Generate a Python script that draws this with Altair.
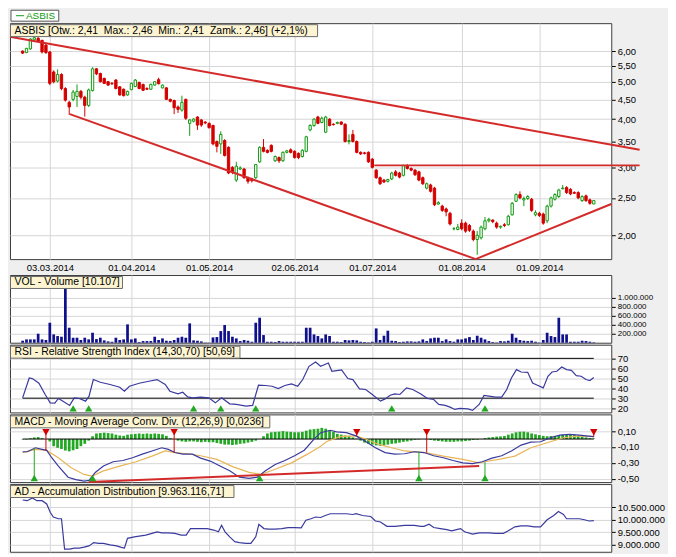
import altair as alt
import pandas as pd

FONT = "Liberation Sans"
BG = "#efefef"
GRID = "#d6d6d6"
RED = "#d40000"
GREEN = "#129a12"
LGREEN = "#22a822"
BLUE = "#3a3a9e"
NAVY = "#10108c"
SIGNAL = "#e8b558"
TREND = "#d42a2a"

W = 604
H_PRICE = 237
H_IND = 68
XDOM = [-3.25, 151.5]

# ---------------- data ----------------
opens = [
    6.00, 5.95, 6.08, 6.42, 6.48, 6.40, 6.22, 5.97, 5.30, 5.02,
    5.22, 4.80, 4.42, 4.50, 4.58, 4.72, 4.56, 4.34, 4.74, 5.40,
    5.25, 5.10, 5.00, 4.95, 5.05, 4.85, 4.78, 4.62, 4.77, 4.86,
    4.98, 4.92, 4.80, 4.78, 4.90, 5.06, 4.82, 4.82, 4.50, 4.47,
    4.30, 4.22, 4.50, 3.90, 3.95, 4.05, 3.98, 3.93, 3.90, 3.85,
    3.50, 3.45, 3.52, 3.38, 3.00, 2.78, 2.97, 2.97, 2.82, 2.80,
    2.82, 3.10, 3.38, 3.32, 3.42, 3.12, 3.18, 3.12, 3.28, 3.33,
    3.30, 3.26, 3.20, 3.30, 3.75, 3.85, 4.05, 3.92, 3.70, 4.00,
    3.88, 3.90, 3.93, 3.88, 3.50, 3.65, 3.50, 3.28, 3.27, 3.28,
    3.15, 2.95, 2.82, 2.78, 2.76, 2.80, 2.92, 2.90, 2.86, 3.03,
    2.98, 2.95, 2.92, 2.82, 2.65, 2.70, 2.65, 2.41, 2.38, 2.34,
    2.28, 2.08, 2.07, 2.15, 2.15, 2.12, 2.05, 1.95, 1.97, 2.08,
    2.18, 2.19, 2.15, 2.10, 2.13, 2.13, 2.26, 2.45, 2.55, 2.47,
    2.49, 2.48, 2.26, 2.28, 2.27, 2.18, 2.38, 2.48, 2.52, 2.64,
    2.66, 2.63, 2.58, 2.58, 2.46, 2.53, 2.47, 2.41,
]
highs = [
    6.03, 6.12, 6.48, 6.55, 6.52, 6.42, 6.26, 6.00, 5.35, 5.38,
    5.26, 4.84, 4.46, 4.76, 4.92, 4.76, 4.60, 4.80, 5.45, 5.42,
    5.28, 5.12, 5.02, 4.99, 5.08, 4.87, 4.80, 4.74, 4.97, 5.08,
    5.00, 4.94, 4.84, 4.94, 5.02, 5.12, 4.92, 4.84, 4.52, 4.49,
    4.34, 4.60, 4.52, 4.00, 4.02, 4.07, 4.00, 3.95, 3.92, 3.87,
    3.52, 3.72, 3.55, 3.40, 3.02, 3.10, 3.02, 2.99, 2.84, 2.82,
    3.06, 3.40, 3.55, 3.34, 3.44, 3.22, 3.20, 3.30, 3.33, 3.36,
    3.32, 3.28, 3.34, 3.62, 3.88, 4.02, 4.08, 4.06, 4.08, 4.02,
    3.90, 3.94, 3.95, 3.90, 3.65, 3.75, 3.52, 3.30, 3.29, 3.30,
    3.17, 2.97, 2.84, 2.80, 2.80, 2.92, 2.95, 2.92, 3.05, 3.06,
    3.00, 2.97, 2.94, 2.84, 2.74, 2.72, 2.67, 2.45, 2.40, 2.36,
    2.30, 2.10, 2.14, 2.20, 2.17, 2.14, 2.07, 2.05, 2.12, 2.23,
    2.22, 2.20, 2.17, 2.12, 2.15, 2.26, 2.44, 2.57, 2.60, 2.52,
    2.54, 2.50, 2.32, 2.30, 2.29, 2.40, 2.52, 2.57, 2.64, 2.70,
    2.68, 2.65, 2.60, 2.60, 2.54, 2.55, 2.49, 2.46,
]
lows = [
    5.90, 5.93, 6.05, 6.38, 6.33, 5.92, 5.90, 4.90, 4.95, 4.98,
    4.75, 4.44, 4.10, 4.45, 4.30, 4.50, 4.06, 4.30, 4.72, 5.20,
    4.98, 4.93, 4.88, 4.90, 4.78, 4.60, 4.58, 4.60, 4.75, 4.84,
    4.78, 4.73, 4.76, 4.76, 4.88, 4.92, 4.80, 4.48, 4.42, 4.12,
    4.15, 4.18, 3.98, 3.62, 3.92, 3.75, 3.82, 3.88, 3.78, 3.42,
    3.28, 3.25, 3.20, 2.88, 2.88, 2.75, 2.95, 2.80, 2.72, 2.74,
    2.80, 3.08, 3.28, 3.26, 3.28, 3.10, 3.08, 3.10, 3.26, 3.26,
    3.16, 3.15, 3.18, 3.28, 3.72, 3.82, 3.88, 3.90, 3.68, 3.83,
    3.85, 3.88, 3.86, 3.48, 3.44, 3.48, 3.26, 3.23, 3.24, 3.08,
    2.98, 2.80, 2.70, 2.73, 2.74, 2.78, 2.84, 2.81, 2.84, 2.96,
    2.93, 2.85, 2.76, 2.70, 2.63, 2.58, 2.38, 2.40, 2.30, 2.24,
    2.12, 2.06, 2.06, 2.06, 2.03, 2.04, 1.93, 1.78, 1.95, 2.06,
    2.16, 2.15, 2.08, 2.08, 2.10, 2.12, 2.25, 2.44, 2.48, 2.38,
    2.47, 2.30, 2.24, 2.23, 2.13, 2.15, 2.36, 2.46, 2.50, 2.63,
    2.56, 2.54, 2.56, 2.48, 2.44, 2.44, 2.40, 2.41,
]
closes = [
    5.93, 6.10, 6.45, 6.50, 6.36, 5.97, 5.95, 4.95, 5.00, 5.22,
    4.80, 4.48, 4.30, 4.70, 4.72, 4.56, 4.34, 4.76, 5.40, 5.24,
    5.00, 4.95, 4.90, 4.94, 4.80, 4.62, 4.60, 4.72, 4.95, 5.05,
    4.80, 4.75, 4.78, 4.92, 5.00, 4.94, 4.90, 4.50, 4.45, 4.28,
    4.24, 4.42, 4.02, 3.98, 4.00, 3.86, 3.86, 3.91, 3.80, 3.45,
    3.40, 3.65, 3.22, 2.90, 2.92, 3.02, 2.99, 2.82, 2.76, 2.77,
    3.05, 3.38, 3.30, 3.28, 3.30, 3.20, 3.12, 3.28, 3.31, 3.28,
    3.18, 3.18, 3.32, 3.60, 3.85, 4.00, 3.90, 4.02, 4.05, 3.85,
    3.87, 3.92, 3.88, 3.50, 3.52, 3.50, 3.28, 3.25, 3.26, 3.10,
    3.00, 2.82, 2.72, 2.75, 2.79, 2.90, 2.86, 2.83, 3.03, 2.98,
    2.95, 2.87, 2.78, 2.72, 2.72, 2.60, 2.40, 2.43, 2.32, 2.30,
    2.14, 2.08, 2.10, 2.08, 2.05, 2.06, 1.95, 2.00, 2.10, 2.18,
    2.20, 2.17, 2.10, 2.11, 2.12, 2.24, 2.42, 2.55, 2.50, 2.49,
    2.52, 2.32, 2.29, 2.25, 2.15, 2.38, 2.50, 2.55, 2.62, 2.65,
    2.58, 2.56, 2.57, 2.50, 2.52, 2.46, 2.42, 2.46,
]
volumes = [
    44000, 74000, 74000, 74000, 200000, 74000, 60000, 444000, 185000, 148000,
    133000, 1207000, 333000, 111000, 111000, 60000, 111000, 74000, 222000, 81000,
    111000, 52000, 30000, 22000, 111000, 60000, 74000, 407000, 74000, 96000,
    15000, 37000, 37000, 37000, 133000, 60000, 96000, 44000, 37000, 60000,
    111000, 133000, 111000, 430000, 52000, 44000, 30000, 5000, 5000, 118000,
    126000, 259000, 393000, 259000, 133000, 96000, 37000, 60000, 44000, 22000,
    444000, 555000, 170000, 22000, 22000, 15000, 37000, 22000, 22000, 22000,
    22000, 22000, 22000, 333000, 333000, 185000, 148000, 96000, 185000, 150000,
    22000, 22000, 15000, 60000, 52000, 60000, 52000, 22000, 15000, 8000,
    22000, 318000, 60000, 155000, 267000, 44000, 37000, 15000, 22000, 30000,
    30000, 22000, 30000, 74000, 37000, 96000, 111000, 111000, 37000, 74000,
    37000, 22000, 74000, 74000, 96000, 126000, 60000, 155000, 111000, 74000,
    37000, 15000, 7000, 37000, 30000, 44000, 200000, 111000, 60000, 44000,
    37000, 44000, 22000, 7000, 60000, 222000, 148000, 126000, 555000, 185000,
    185000, 22000, 22000, 22000, 44000, 37000, 22000, 10107,
]
macd_hist = [
    -0.005, -0.005, 0.01, 0.02, 0.025, 0.01, 0.0, -0.03, -0.09, -0.11,
    -0.125, -0.145, -0.155, -0.14, -0.125, -0.09, -0.06, -0.02, 0.035, 0.07,
    0.075, 0.08, 0.075, 0.07, 0.055, 0.045, 0.04, 0.055, 0.06, 0.065,
    0.07, 0.065, 0.07, 0.065, 0.07, 0.065, 0.06, 0.04, 0.01, 0.0,
    -0.02, -0.03, -0.035, -0.03, -0.03, -0.035, -0.04, -0.035, -0.04, -0.04,
    -0.05, -0.06, -0.07, -0.07, -0.075, -0.07, -0.06, -0.055, -0.045, -0.035,
    -0.02, 0.0, 0.035, 0.07, 0.085, 0.09, 0.093, 0.1, 0.093, 0.09,
    0.085, 0.085, 0.09, 0.105, 0.12, 0.125, 0.13, 0.14, 0.13, 0.11,
    0.09, 0.065, 0.055, 0.045, 0.04, 0.02, 0.005, -0.02, -0.045, -0.06,
    -0.07, -0.08, -0.085, -0.08, -0.07, -0.06, -0.055, -0.045, -0.035, -0.03,
    -0.02, -0.01, -0.005, 0.0, -0.005, -0.01, -0.02, -0.025, -0.03, -0.035,
    -0.035, -0.035, -0.03, -0.03, -0.025, -0.02, -0.012, -0.008, 0.0, 0.012,
    0.02, 0.025, 0.03, 0.033, 0.038, 0.055, 0.07, 0.085, 0.093, 0.093,
    0.085, 0.07, 0.06, 0.05, 0.04, 0.035, 0.038, 0.04, 0.05, 0.055,
    0.055, 0.055, 0.05, 0.04, 0.033, 0.02, 0.012, 0.008,
]

rsi_k = [0, 1.7, 2.5, 4.2, 5.8, 7.1, 8.3, 9.2, 10.4, 12.1, 13.3, 14.6, 16.2, 17.1, 18.2,
         20, 22.5, 25, 26.2, 27.5, 30, 32.5, 34.6, 36.7, 37.9, 40, 41.2, 42.5, 43.7,
         45.8, 47.9, 49.6, 51.2, 53.3, 55, 57.5, 59.2, 60.7, 62.5, 64.2, 65.8, 67.5,
         69.2, 70.8, 72.1, 73.7, 75.4, 76.7, 78.7, 79.6, 80.8, 82.1, 83.7, 85, 86.7,
         88.3, 90, 92.1, 93.3, 94.6, 95.8, 97.1, 98.8, 100.4, 102.5, 104.2, 105.8,
         107.1, 108.75, 110, 111.25, 112.5, 114.6, 115.8, 117.5, 118.75, 120, 121.7,
         123.3, 124.6, 125.8, 127.1, 128.3, 130, 131.25, 132.5, 134, 135.2, 136.25,
         137.5, 138.75, 140, 141.25, 142.5, 143.75, 145, 146, 147]
rsi_v = [30.3, 50.3, 49.7, 45, 33.7, 25.3, 25, 29.7, 27, 22.7, 30.3, 29.7, 27, 32, 48.7,
         46, 43.7, 41, 37, 42, 45, 47, 48.7, 43.7, 37, 34.3, 36, 31.3, 30.3,
         31, 30.3, 25.3, 30.3, 24.3, 23.7, 22, 22.7, 43, 42.7, 42, 39.7, 42.7,
         44.3, 42, 48.7, 62, 66.3, 62, 65.3, 57, 57.7, 58.3, 49.7, 48.7, 39.3,
         38.7, 33.7, 27, 29.3, 33, 34.3, 33.7, 40.3, 38.7, 34.3, 29.7, 28.7,
         23.7, 22.7, 21, 18.7, 19.7, 19.3, 17.7, 23.7, 32.7, 32, 31,
         31, 38.7, 50.3, 58.7, 56.3, 56, 45.3, 43, 40.3, 52, 56.3,
         57, 61.3, 58.7, 58, 52.7, 52, 48.7, 47.7, 50.7]

macd_k = [0, 1.2, 3.3, 5, 6.2, 7.5, 9.2, 11.7, 13.7, 15.8, 17.1, 18.7, 20.8, 23.3, 25.8,
          28.3, 30.8, 33.3, 35.8, 37.5, 39.2, 41.2, 43.7, 45.8, 48.3, 50.8, 53.3, 55.8,
          58.3, 60.4, 62.5, 65, 67.5, 70, 72.5, 75, 76.7, 79.2, 80.8, 83.3, 85.8, 88.3,
          90.8, 93.3, 95.8, 98.3, 100.8, 103.3, 105.8, 108.3, 110.8, 113.3, 115.8,
          118.3, 120.8, 123.3, 125.8, 128.3, 130.8, 133.3, 135.8, 138.3, 140.8, 143.3,
          145, 147]
macd_v = [-0.16, -0.16, -0.11, -0.13, -0.143, -0.235, -0.34, -0.48, -0.51, -0.53, -0.52,
          -0.42, -0.34, -0.286, -0.27, -0.235, -0.19, -0.15, -0.11, -0.13, -0.17, -0.19,
          -0.19, -0.24, -0.277, -0.34, -0.40, -0.48, -0.495, -0.48, -0.40, -0.32, -0.27,
          -0.21, -0.14, 0.0, 0.08, 0.11, 0.09, 0.08, 0.04, -0.03, -0.11, -0.17, -0.19,
          -0.185, -0.16, -0.17, -0.21, -0.235, -0.27, -0.30, -0.31, -0.286, -0.24,
          -0.21, -0.15, -0.076, -0.038, -0.034, 0.016, 0.05, 0.058, 0.05, 0.04, 0.03]

sig_k = [0, 3.3, 6.2, 9.2, 12.5, 15.8, 17.9, 20.8, 25, 29.2, 33.3, 36.7, 39.2, 42.5, 45.8,
         50, 54.2, 58.3, 61.4, 65, 69.2, 73.3, 76.7, 78.3, 81.7, 85.7, 88.3, 91.7, 95,
         98.3, 103.6, 108.3, 113.3, 117.5, 118.9, 122.5, 126.7, 130.8, 135, 139.2,
         143.3, 147]
sig_v = [-0.17, -0.13, -0.143, -0.235, -0.36, -0.445, -0.466, -0.40, -0.34, -0.286,
         -0.215, -0.15, -0.17, -0.185, -0.21, -0.256, -0.35, -0.42, -0.445, -0.38,
         -0.30, -0.19, -0.09, -0.03, 0.03, 0.04, 0.0, -0.068, -0.11, -0.15, -0.17,
         -0.215, -0.256, -0.30, -0.286, -0.256, -0.215, -0.11, -0.047, 0.016, 0.04,
         0.03]

ad_k = [0, 1.2, 2.5, 3.7, 5, 6.2, 7.1, 7.9, 9.2, 10, 10.8, 12.1, 13.3, 14.6, 15.8, 17.1,
        18.3, 19.6, 20.8, 22.5, 24.2, 25.4, 26.2, 27, 28.75, 30, 31.7, 33.3, 34.6, 35.8,
        37.5, 39.2, 40.8, 42.1, 43.2, 44.2, 45.8, 47.5, 49.2, 50.4, 51.2, 52.1, 53.3,
        54.6, 55.8, 57.5, 58.75, 60, 60.8, 62.1, 63.3, 65, 66.7, 68.3, 70, 71.7, 72.9,
        74.2, 75.4, 76.7, 77.9, 79.2, 80.8, 83.3, 85, 85.8, 87.5, 89.6, 90.8, 92.1,
        93.75, 95.8, 98.3, 100.8, 102.5, 103.3, 104.6, 105.8, 107.5, 109.2, 110.4,
        111.7, 112.7, 113.75, 115.8, 117.5, 120, 121.7, 123.75, 125, 126.7, 128.3, 130,
        131.7, 133.3, 135, 136.7, 137.9, 139.2, 140, 141.7, 143.3, 144.6, 145.8, 147]
ad_v = [10.787, 10.76, 10.87, 10.76, 10.76, 10.63, 10.30, 10.11, 10.04, 10.04, 8.83,
        8.83, 8.87, 8.87, 8.91, 8.96, 9.09, 9.06, 9.06, 9.0, 8.96, 8.90, 8.87, 9.26,
        9.32, 9.35, 9.39, 9.46, 9.52, 9.48, 9.48, 9.46, 9.39, 9.39, 9.65, 9.65, 9.65,
        9.65, 9.59, 9.52, 9.78, 9.52, 9.32, 9.13, 9.09, 9.06, 9.06, 9.32, 9.82, 9.65,
        9.63, 9.63, 9.65, 9.69, 9.69, 9.68, 9.98, 10.04, 10.11, 10.09, 10.17, 10.24,
        10.24, 10.24, 10.21, 10.24, 10.17, 10.13, 9.95, 9.91, 9.74, 9.74, 9.78, 9.78,
        9.74, 9.74, 9.82, 9.69, 9.65, 9.61, 9.56, 9.61, 9.65, 9.52, 9.43, 9.48, 9.48,
        9.46, 9.46, 9.56, 9.72, 9.76, 9.76, 9.72, 9.72, 10.0, 10.17, 10.33, 10.21,
        10.04, 10.04, 10.04, 10.0, 9.95, 9.963]  # millions

rsi_buy_k = [13, 17, 44, 51, 60, 95, 119]
macd_sell_k = [6, 39, 86, 104, 147]
macd_sell_end = [-0.145, -0.17, 0.04, -0.17, 0.03]
macd_buy_k = [3, 18, 61, 102, 119]
macd_buy_end = [-0.11, -0.52, -0.47, -0.16, -0.29]

# trend lines on price: start k, start price, end k, end price
tl_k1 = [-3.25, 12.15, 116.6, 90.5]
tl_p1 = [6.535, 4.12, 1.735, 3.035]
tl_k2 = [158.8, 116.6, 151.5, 158.8]
tl_p2 = [3.33, 1.735, 2.41, 3.035]
macd_tl = {"k1": [17], "v1": [-0.54], "k2": [117.5], "v2": [-0.34]}

date_tick_k = [7, 28, 48, 70, 90, 113, 133]
date_tick_labels = ["03.03.2014", "01.04.2014", "01.05.2014", "02.06.2014",
                    "01.07.2014", "01.08.2014", "01.09.2014"]
price_ticks = [2.0, 2.5, 3.0, 3.5, 4.0, 4.5, 5.0, 5.5, 6.0]
price_tick_labels = ["2,00", "2,50", "3,00", "3,50", "4,00", "4,50", "5,00", "5,50", "6,00"]
vol_ticks = [200000, 400000, 600000, 800000, 1000000]
vol_tick_labels = ["200.000", "400.000", "600.000", "800.000", "1.000.000"]
rsi_ticks = [20, 30, 40, 50, 60, 70]
rsi_tick_labels = ["20", "30", "40", "50", "60", "70"]
macd_ticks = [0.1, -0.1, -0.3, -0.5]
macd_tick_labels = ["0,10", "-0,10", "-0,30", "-0,50"]
ad_ticks = [9.0, 9.5, 10.0, 10.5]
ad_tick_labels = ["9.000.000", "9.500.000", "10.000.000", "10.500.000"]

NB = "\u00a0"
price_label = f"ASBIS [Otw.: 2,41 {NB}Max.: 2,46 {NB}Min.: 2,41 {NB}Zamk.: 2,46] (+2,1%)"
vol_label = "VOL - Volume [10.107]"
rsi_label = "RSI - Relative Strength Index (14,30,70) [50,69]"
macd_label = "MACD - Moving Average Conv. Div. (12,26,9) [0,0236]"
ad_label = "AD - Accumulation Distribution [9.963.116,71]"

# ---------------- helpers ----------------
def label_expr(vals, labs):
    parts = [f"abs(datum.value - ({v})) < 1e-6 ? '{l}'" for v, l in zip(vals, labs)]
    return " : ".join(parts) + " : ''"

def X(field, labels=False):
    return alt.X(f"{field}:Q",
                 scale=alt.Scale(domain=XDOM, nice=False, zero=False),
                 axis=alt.Axis(values=date_tick_k,
                               labelExpr=label_expr(date_tick_k, date_tick_labels),
                               labels=labels, ticks=False, domain=False, grid=True,
                               title=None, labelPadding=3, labelFlush=False,
                               labelOverlap=False))

def Y(field, dom, vals, labs, log=False, fs=9.5):
    if log:
        sc = alt.Scale(type="log", domain=dom, nice=False)
    else:
        sc = alt.Scale(domain=dom, nice=False, zero=False)
    return alt.Y(f"{field}:Q", scale=sc,
                 axis=alt.Axis(orient="right", values=vals, labelExpr=label_expr(vals, labs),
                               grid=True, ticks=True, tickSize=4, domain=False, title=None,
                               labelPadding=2, labelOverlap=False, labelFlush=False,
                               labelFontSize=fs))

def YP(f):
    return Y(f, [1.735, 7.09], price_ticks, price_tick_labels, log=True)

def YV(f):
    return Y(f, [0, 1504000], vol_ticks, vol_tick_labels, fs=8)

def YR(f):
    return Y(f, [15.7, 83.7], rsi_ticks, rsi_tick_labels)

def YM(f):
    return Y(f, [-0.5415, 0.31], macd_ticks, macd_tick_labels)

def YA(f):
    return Y(f, [8.726, 11.42], ad_ticks, ad_tick_labels)

def label_box(text, w):
    d = pd.DataFrame({"t": [text]})
    box = alt.Chart(d).mark_rect(fill="#fdf5d2", stroke="#6a6a6a", strokeWidth=1).encode(
        x=alt.value(0.5), x2=alt.value(w), y=alt.value(1.5), y2=alt.value(13.5))
    txt = alt.Chart(d).mark_text(align="left", baseline="middle", font=FONT,
                                 fontSize=10.5, color="#000").encode(
        x=alt.value(4.5), y=alt.value(7.5), text="t:N")
    return [box, txt]

# ---------------- tables ----------------
df = pd.DataFrame({"k": list(range(len(closes))), "o": opens, "h": highs, "l": lows,
                   "c": closes, "v": volumes, "hist": macd_hist})
df["dir"] = ["up" if c >= o else "down" for o, c in zip(opens, closes)]

dir_dom = ["up", "down"]

# ---------------- price panel ----------------
wick = alt.Chart(df).mark_rule(strokeWidth=1).encode(
    x=X("k", True), y=YP("l"), y2="h",
    color=alt.Color("dir:N", scale=alt.Scale(domain=dir_dom, range=[GREEN, RED]), legend=None))
body = alt.Chart(df).transform_calculate(
    k0="datum.k - 0.3", k1="datum.k + 0.3").mark_rect(strokeWidth=1).encode(
    x=X("k0", True), x2="k1", y=YP("o"), y2="c",
    fill=alt.Fill("dir:N", scale=alt.Scale(domain=dir_dom, range=["#ffffff", RED]), legend=None),
    stroke=alt.Stroke("dir:N", scale=alt.Scale(domain=dir_dom, range=[GREEN, RED]), legend=None))
tl = pd.DataFrame({"k1": tl_k1, "p1": tl_p1, "k2": tl_k2, "p2": tl_p2})
trend = alt.Chart(tl).mark_rule(color=TREND, strokeWidth=2).encode(
    x=X("k1", True), y=YP("p1"), x2="k2", y2="p2")

d1 = pd.DataFrame({"t": ["ASBIS"]})
head_box = alt.Chart(d1).mark_rect(fill="#ffffff", stroke="#555555", strokeWidth=1).encode(
    x=alt.value(1), x2=alt.value(49), y=alt.value(-13), y2=alt.value(-2))
head_dash = alt.Chart(d1).mark_rule(color=GREEN, strokeWidth=1).encode(
    x=alt.value(6), x2=alt.value(14), y=alt.value(-7.5))
head_txt = alt.Chart(d1).mark_text(align="left", baseline="middle", font=FONT, fontSize=10,
                                   color=GREEN).encode(x=alt.value(16), y=alt.value(-7.5), text="t:N")

price = alt.layer(wick, body, trend, *label_box(price_label, 309),
                  head_box, head_dash, head_txt).properties(width=W, height=H_PRICE)

# ---------------- volume panel ----------------
vol_bars = alt.Chart(df).transform_calculate(
    k0="datum.k - 0.35", k1="datum.k + 0.35", zero="0").mark_rect(color=NAVY).encode(
    x=X("k0"), x2="k1", y=YV("v"), y2="zero")
vol = alt.layer(vol_bars, *label_box(vol_label, 113)).properties(width=W, height=H_IND)

# ---------------- RSI panel ----------------
rsi_df = pd.DataFrame({"k": rsi_k, "v": rsi_v})
lv = pd.DataFrame({"k1": [0, 0], "k2": [147, 147], "lvl": [30, 70]})
rsi_lvls = alt.Chart(lv).mark_rule(color="#000000", strokeWidth=1).encode(
    x=X("k1"), x2="k2", y=YR("lvl"))
rsi_line = alt.Chart(rsi_df).mark_line(color=BLUE, strokeWidth=1.2).encode(
    x=X("k"), y=YR("v"))
rb = pd.DataFrame({"k": rsi_buy_k, "y": [19.7] * len(rsi_buy_k)})
rsi_tri = alt.Chart(rb).mark_point(shape="triangle-up", filled=True, size=55, color=LGREEN,
                                   opacity=1).encode(x=X("k"), y=YR("y"))
rsi = alt.layer(rsi_lvls, rsi_line, rsi_tri, *label_box(rsi_label, 231)).properties(
    width=W, height=H_IND)

# ---------------- MACD panel ----------------
hist = alt.Chart(df).transform_calculate(
    k0="datum.k - 0.35", k1="datum.k + 0.35", zero="0").mark_rect(color=LGREEN).encode(
    x=X("k0"), x2="k1", y=YM("zero"), y2="hist")
zl = pd.DataFrame({"k1": [0], "k2": [147], "z": [0]})
zero_line = alt.Chart(zl).mark_rule(color="#000000", strokeWidth=1).encode(
    x=X("k1"), x2="k2", y=YM("z"))
macd_line = alt.Chart(pd.DataFrame({"k": macd_k, "v": macd_v})).mark_line(
    color=BLUE, strokeWidth=1.2).encode(x=X("k"), y=YM("v"))
sig_line = alt.Chart(pd.DataFrame({"k": sig_k, "v": sig_v})).mark_line(
    color=SIGNAL, strokeWidth=1.2).encode(x=X("k"), y=YM("v"))
sell_df = pd.DataFrame({"k": macd_sell_k, "y": [0.085] * len(macd_sell_k), "e": macd_sell_end})
buy_df = pd.DataFrame({"k": macd_buy_k, "y": [-0.49] * len(macd_buy_k), "e": macd_buy_end})
sell_rule = alt.Chart(sell_df).mark_rule(color=RED, strokeWidth=1).encode(
    x=X("k"), y=YM("y"), y2="e")
buy_rule = alt.Chart(buy_df).mark_rule(color=LGREEN, strokeWidth=1).encode(
    x=X("k"), y=YM("y"), y2="e")
sell_tri = alt.Chart(sell_df).mark_point(shape="triangle-down", filled=True, size=55,
                                         color=RED, opacity=1).encode(x=X("k"), y=YM("y"))
buy_tri = alt.Chart(buy_df).mark_point(shape="triangle-up", filled=True, size=55,
                                       color=LGREEN, opacity=1).encode(x=X("k"), y=YM("y"))
macd_trend = alt.Chart(pd.DataFrame(macd_tl)).mark_rule(color=TREND, strokeWidth=2).encode(
    x=X("k1"), y=YM("v1"), x2="k2", y2="v2")
macd = alt.layer(hist, zero_line, sig_line, macd_line, sell_rule, buy_rule, macd_trend,
                 sell_tri, buy_tri, *label_box(macd_label, 261)).properties(
    width=W, height=H_IND)

# ---------------- AD panel ----------------
ad_line = alt.Chart(pd.DataFrame({"k": ad_k, "v": ad_v})).mark_line(
    color=BLUE, strokeWidth=1.2).encode(x=X("k"), y=YA("v"))
ad = alt.layer(ad_line, *label_box(ad_label, 225)).properties(width=W, height=H_IND)

lower = alt.vconcat(vol, rsi, macd, ad, spacing=2, bounds="flush")
chart = alt.vconcat(price, lower, spacing=16, bounds="flush").properties(
    padding={"left": 0, "top": 0, "right": 2, "bottom": 0}
).configure(background=BG, font=FONT).configure_view(
    stroke="#3c3c3c", strokeWidth=1, fill="#ffffff"
).configure_axis(
    labelFont=FONT, labelFontSize=9.5, labelColor="#000000", gridColor=GRID, gridWidth=1,
    tickColor="#000000", tickWidth=1
)

chart.save("out.html", embed_options={"renderer": "svg", "actions": False})
